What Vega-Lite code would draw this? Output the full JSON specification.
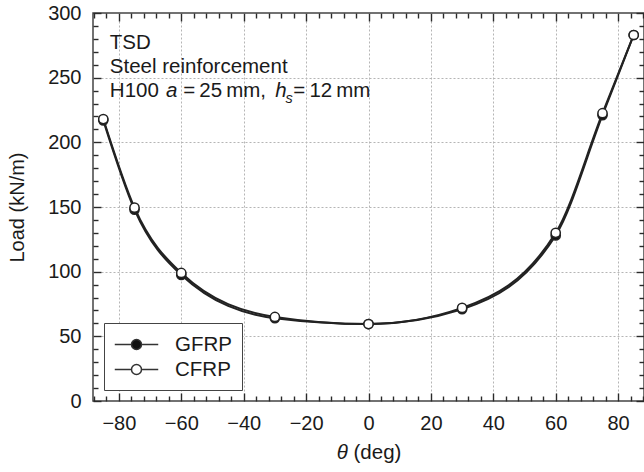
{
  "$schema": "https://vega.github.io/schema/vega-lite/v6.json",
  "width": 551,
  "height": 388,
  "autosize": "none",
  "padding": {"left": 93, "top": 13, "right": 0, "bottom": 71},
  "background": "white",
  "config": {
    "font": "Liberation Sans",
    "view": {"stroke": "#444444", "strokeWidth": 1.5},
    "axis": {
      "labelFont": "Liberation Sans",
      "labelFontSize": 20,
      "labelColor": "#1a1a1a",
      "titleFont": "Liberation Sans",
      "titleFontSize": 20,
      "titleFontWeight": "normal",
      "titleColor": "#1a1a1a",
      "ticks": true,
      "tickColor": "#2a2a2a",
      "tickWidth": 1.4,
      "domain": false,
      "gridColor": "#b5b5b5",
      "gridDash": [2, 2],
      "gridWidth": 1,
      "labelOverlap": false,
      "labelFlush": false
    }
  },
  "datasets": {
    "series": [
      {"theta": -85, "load": 217, "material": "GFRP"},
      {"theta": -75, "load": 148, "material": "GFRP"},
      {"theta": -60, "load": 97.5, "material": "GFRP"},
      {"theta": -30, "load": 64, "material": "GFRP"},
      {"theta": 0, "load": 59.5, "material": "GFRP"},
      {"theta": 30, "load": 71, "material": "GFRP"},
      {"theta": 60, "load": 128, "material": "GFRP"},
      {"theta": 75, "load": 221, "material": "GFRP"},
      {"theta": 85, "load": 283, "material": "GFRP"},
      {"theta": -85, "load": 218, "material": "CFRP"},
      {"theta": -75, "load": 149.5, "material": "CFRP"},
      {"theta": -60, "load": 99, "material": "CFRP"},
      {"theta": -30, "load": 65, "material": "CFRP"},
      {"theta": 0, "load": 59.5, "material": "CFRP"},
      {"theta": 30, "load": 72, "material": "CFRP"},
      {"theta": 60, "load": 130, "material": "CFRP"},
      {"theta": 75, "load": 222.5, "material": "CFRP"},
      {"theta": 85, "load": 283, "material": "CFRP"}
    ],
    "notes": [
      {"text": "TSD", "x": -82.9, "y": 272.4},
      {"text": "Steel reinforcement", "x": -82.9, "y": 253.6},
      {"text": "H100", "x": -82.9, "y": 234.8},
      {"text": "=\u200925\u2009mm,", "x": -59.4, "y": 234.8},
      {"text": "=\u200912\u2009mm", "x": -24.1, "y": 234.8},
      {"text": "(deg)", "x": -4.8, "y": -44.5}
    ],
    "italic": [
      {"text": "a", "x": -64.9, "y": 234.8},
      {"text": "h", "x": -29.9, "y": 234.8},
      {"text": "θ", "x": -10.2, "y": -44.5}
    ],
    "sub": [
      {"text": "s", "x": -26.6, "y": 230.5}
    ]
  },
  "layer": [
    {
      "data": {"name": "series"},
      "mark": {"type": "line", "interpolate": "monotone", "color": "#222222", "strokeWidth": 2},
      "encoding": {
        "x": {
          "field": "theta", "type": "quantitative",
          "scale": {"domain": [-88.3, 88.3], "nice": false, "zero": false},
          "axis": {
            "orient": "bottom",
            "title": null,
            "values": [-88,-84,-80,-76,-72,-68,-64,-60,-56,-52,-48,-44,-40,-36,-32,-28,-24,-20,-16,-12,-8,-4,0,4,8,12,16,20,24,28,32,36,40,44,48,52,56,60,64,68,72,76,80,84,88],
            "labelExpr": "datum.value % 20 === 0 ? datum.label : ''",
            "tickSize": {"condition": {"test": "datum.value % 20 === 0", "value": -8}, "value": -5},
            "labelPadding": 20,
            "grid": true,
            "gridOpacity": {"condition": {"test": "datum.value % 20 === 0", "value": 1}, "value": 0}
          }
        },
        "y": {
          "field": "load", "type": "quantitative",
          "scale": {"domain": [0, 300], "nice": false, "zero": false},
          "axis": {
            "orient": "left",
            "title": "Load (kN/m)",
            "titlePadding": 20,
            "values": [0,10,20,30,40,50,60,70,80,90,100,110,120,130,140,150,160,170,180,190,200,210,220,230,240,250,260,270,280,290,300],
            "labelExpr": "datum.value % 50 === 0 ? datum.label : ''",
            "tickSize": {"condition": {"test": "datum.value % 50 === 0", "value": -8}, "value": -5},
            "labelPadding": 20,
            "grid": true,
            "gridOpacity": {"condition": {"test": "datum.value % 50 === 0 && datum.value > 0 && datum.value < 300", "value": 1}, "value": 0}
          }
        },
        "detail": {"field": "material"}
      }
    },
    {
      "data": {"name": "series"},
      "mark": {"type": "point", "shape": "circle", "filled": true, "size": 85, "stroke": "#222222", "strokeWidth": 1.5, "opacity": 1},
      "encoding": {
        "x": {
          "field": "theta", "type": "quantitative",
          "axis": {
            "orient": "top", "title": null, "labels": false, "grid": false,
            "values": [-88,-84,-80,-76,-72,-68,-64,-60,-56,-52,-48,-44,-40,-36,-32,-28,-24,-20,-16,-12,-8,-4,0,4,8,12,16,20,24,28,32,36,40,44,48,52,56,60,64,68,72,76,80,84,88],
            "tickSize": {"condition": {"test": "datum.value % 20 === 0", "value": -8}, "value": -5}
          }
        },
        "y": {
          "field": "load", "type": "quantitative",
          "axis": {
            "orient": "right", "title": null, "labels": false, "grid": false,
            "values": [0,10,20,30,40,50,60,70,80,90,100,110,120,130,140,150,160,170,180,190,200,210,220,230,240,250,260,270,280,290,300],
            "tickSize": {"condition": {"test": "datum.value % 50 === 0", "value": -8}, "value": -5}
          }
        },
        "fill": {
          "field": "material", "type": "nominal",
          "scale": {"domain": ["GFRP", "CFRP"], "range": ["#111111", "#ffffff"]},
          "legend": {
            "title": null,
            "orient": "bottom-left",
            "direction": "vertical",
            "offset": 11,
            "padding": 10,
            "strokeColor": "#444444",
            "fillColor": "#ffffff",
            "rowPadding": 3,
            "symbolType": "M-2.07,0H-0.476A0.476,0.476,0,1,1,0.476,0A0.476,0.476,0,1,1,-0.476,0M0.476,0H2.07",
            "symbolSize": 441,
            "symbolStrokeColor": "#333333",
            "symbolStrokeWidth": 1.5,
            "symbolOpacity": 1,
            "symbolOffset": 11,
            "labelOffset": 27,
            "labelFont": "Liberation Sans",
            "labelFontSize": 20.5,
            "labelColor": "#1a1a1a"
          }
        }
      }
    },
    {
      "data": {"name": "notes"},
      "mark": {"type": "text", "align": "left", "baseline": "alphabetic", "fontSize": 20.5, "font": "Liberation Sans", "color": "#1a1a1a"},
      "encoding": {
        "x": {"field": "x", "type": "quantitative", "axis": null},
        "y": {"field": "y", "type": "quantitative", "axis": null},
        "text": {"field": "text"}
      }
    },
    {
      "data": {"name": "italic"},
      "mark": {"type": "text", "align": "left", "baseline": "alphabetic", "fontSize": 20.5, "fontStyle": "italic", "font": "Liberation Sans", "color": "#1a1a1a"},
      "encoding": {
        "x": {"field": "x", "type": "quantitative", "axis": null},
        "y": {"field": "y", "type": "quantitative", "axis": null},
        "text": {"field": "text"}
      }
    },
    {
      "data": {"name": "sub"},
      "mark": {"type": "text", "align": "left", "baseline": "alphabetic", "fontSize": 14.5, "fontStyle": "italic", "font": "Liberation Sans", "color": "#1a1a1a"},
      "encoding": {
        "x": {"field": "x", "type": "quantitative", "axis": null},
        "y": {"field": "y", "type": "quantitative", "axis": null},
        "text": {"field": "text"}
      }
    }
  ],
  "resolve": {"axis": {"x": "independent", "y": "independent"}}
}
